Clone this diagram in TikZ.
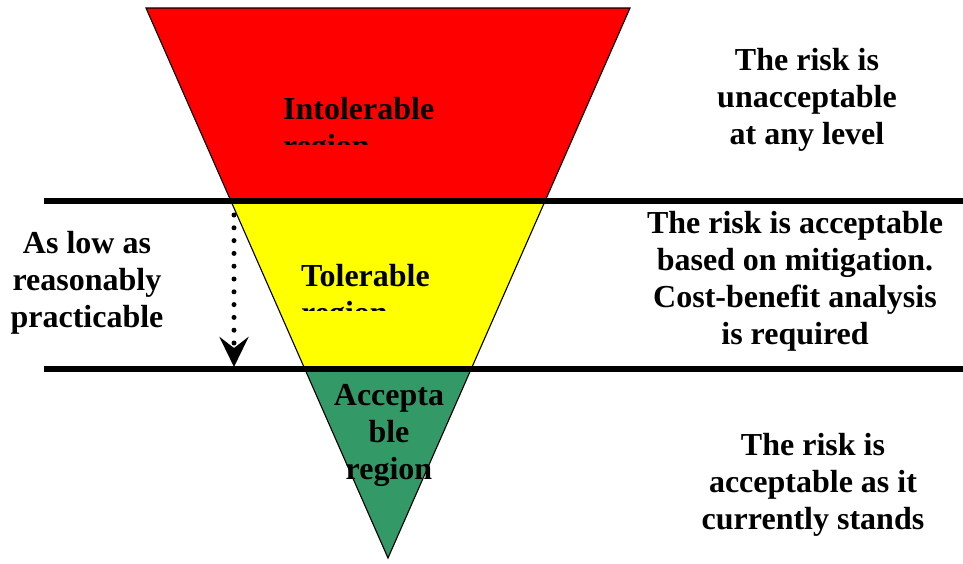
\documentclass[tikz,border=0pt]{standalone}
\usepackage{fontspec}
\setmainfont{Liberation Serif}
\usetikzlibrary{arrows.meta}
\definecolor{zoneRed}{RGB}{255,0,0}
\definecolor{zoneYellow}{RGB}{255,255,0}
\definecolor{zoneGreen}{RGB}{51,153,102}
\tikzset{
  label text/.style={inner sep=0pt, font=\fontsize{32}{37}\selectfont\bfseries,
    execute at begin node=\strut},
  divider/.style={line width=5.5pt},
  outline/.style={line width=1.1pt},
  alarp/.style={line width=5pt, line cap=round, dash pattern=on 0pt off 12.8pt,
    -{Stealth[length=30pt,width=29pt,inset=11pt]}}
}
\begin{document}
\begin{tikzpicture}[x=1pt,y=-1pt]
\useasboundingbox (0,0) rectangle (963,563);

% inverted triangle split into three zones
\coordinate (tl) at (146,8);
\coordinate (tr) at (630,8);
\coordinate (apex) at (388,558);
\begin{scope}
  \clip (tl) -- (tr) -- (apex) -- cycle;
  \fill[zoneRed]    (100,0)   rectangle (700,201);
  \fill[zoneYellow] (100,201) rectangle (700,369);
  \fill[zoneGreen]  (100,369) rectangle (700,563);
\end{scope}
\draw[outline] (tl) -- (tr) -- (apex) -- cycle;

% zone labels (the second line is cut off by the text frame)
\begin{scope}
  \clip (0,0) rectangle (963,144);
  \node[label text, anchor=north west, align=left] (intol) at (283,97.5) {Intolerable\\region};
\end{scope}
\begin{scope}
  \clip (0,201) rectangle (963,310);
  \node[label text, anchor=north west, align=left] (tol) at (301,264.5) {Tolerable\\region};
\end{scope}
\node[label text, anchor=north, align=center] (acc) at (389,384.5) {Accepta\\ble\\region};

% zone boundaries
\coordinate (l1a) at (44,201);
\coordinate (l1b) at (963,201);
\coordinate (l2a) at (44,369);
\coordinate (l2b) at (963,369);
\draw[divider] (l1a) -- (l1b);
\draw[divider] (l2a) -- (l2b);

% ALARP arrow
\coordinate (arrTop) at (234,215);
\coordinate (arrTip) at (234,367);
\draw[alarp] (arrTop) -- (arrTip);
\node[label text, anchor=north, align=center] (alarpText) at (87,231) {As low as\\reasonably\\practicable};

% descriptions
\node[label text, anchor=north, align=center] (descA) at (807,48.5) {The risk is\\unacceptable\\at any level};
\node[label text, anchor=north, align=center] (descB) at (795,211) {The risk is acceptable\\based on mitigation.\\Cost-benefit analysis\\is required};
\node[label text, anchor=north, align=center] (descC) at (813,433.5) {The risk is\\acceptable as it\\currently stands};
\end{tikzpicture}
\end{document}
